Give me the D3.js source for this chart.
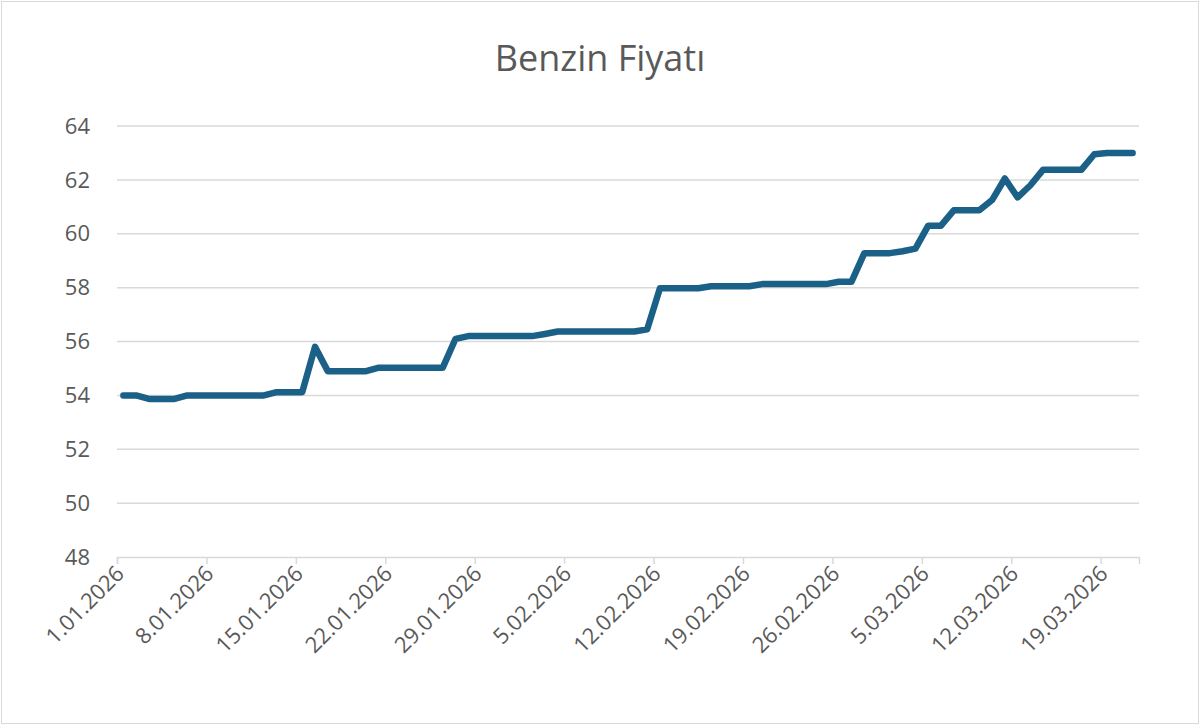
<!DOCTYPE html>
<html><head><meta charset="utf-8">
<script src="https://cdn.jsdelivr.net/npm/d3@7"></script>
<style>body{margin:0;background:#fff}svg{font-family:"Open Sans",Roboto,sans-serif}</style>
</head><body><svg id="c" width="1200" height="725"></svg>
<script>
const startDate = new Date(2026,0,1);
const prices = [54.0,54.0,53.87,53.87,53.87,54.0,54.0,54.0,54.0,54.0,54.0,54.0,54.12,54.12,54.12,55.8,54.9,54.9,54.9,54.9,
55.03,55.03,55.03,55.03,55.03,55.03,56.1,56.2,56.2,56.2,56.2,56.2,56.2,56.28,56.37,56.37,56.37,56.37,56.37,56.37,
56.37,56.45,57.98,57.98,57.98,57.98,58.05,58.05,58.05,58.05,58.13,58.13,58.13,58.13,58.13,58.13,58.22,58.22,59.28,59.28,
59.28,59.35,59.45,60.3,60.3,60.87,60.87,60.87,61.25,62.05,61.35,61.8,62.38,62.38,62.38,62.38,62.95,63.0,63.0,63.0];
const yTicks = [48,50,52,54,56,58,60,62,64];
const xTickDays = [0,7,14,21,28,35,42,49,56,63,70,77];

const svg = d3.select("#c");
svg.append("rect").attr("x",1.5).attr("y",1.5).attr("width",1197).attr("height",722).attr("fill","#fff").attr("stroke","#d9d9d9");
svg.append("text").attr("x",600).attr("y",71).attr("text-anchor","middle").attr("font-size",36).attr("fill","#595959").text("Benzin Fiyatı");

const x = d3.scaleLinear().domain([0,prices.length]).range([117,1139]);
const y = d3.scaleLinear().domain([48,64]).range([557,126]);
const fmt = i => { const d = d3.timeDay.offset(startDate,i); return d.getDate()+"."+String(d.getMonth()+1).padStart(2,"0")+"."+d.getFullYear(); };

const gy = svg.append("g");
yTicks.forEach(t=>{
  if(t>48) gy.append("line").attr("x1",117).attr("x2",1139).attr("y1",y(t)).attr("y2",y(t)).attr("stroke","#d9d9d9").attr("stroke-width",1.5);
  gy.append("text").attr("x",90).attr("y",y(t)).attr("dy","0.35em").attr("text-anchor","end").attr("font-size",22).attr("fill","#595959").text(t);
});
const xa = svg.append("g").attr("transform","translate(0,557)")
  .call(d3.axisBottom(x).tickValues(xTickDays).tickSize(7).tickFormat(fmt));
xa.select(".domain").attr("stroke","#d9d9d9").attr("stroke-width",1.5);
xa.selectAll(".tick line").attr("stroke","#d9d9d9").attr("stroke-width",1.5);
xa.selectAll(".tick text").attr("font-size",22).attr("fill","#595959").attr("font-family","'Open Sans',Roboto,sans-serif")
  .attr("text-anchor","end").attr("dy",0).attr("y",0).attr("transform","translate(8,18) rotate(-45)");

svg.append("path").datum(prices)
  .attr("d", d3.line().x((d,i)=>x(i+0.5)).y(d=>y(d)))
  .attr("fill","none").attr("stroke","#1b6087").attr("stroke-width",6.5).attr("stroke-linejoin","round").attr("stroke-linecap","round");
</script></body></html>
